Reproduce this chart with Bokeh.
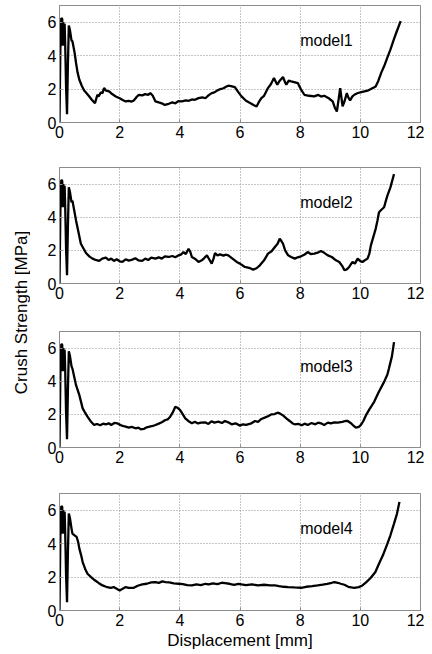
import math
from bokeh.plotting import figure
from bokeh.layouts import row, column
from bokeh.models import Range1d, FixedTicker
from bokeh.core.properties import value
from bokeh.embed import file_html
from bokeh.resources import INLINE

# ---------------- data ----------------
x_ticks = [0, 2, 4, 6, 8, 10, 12]
y_ticks = [0, 2, 4, 6]
model_names = ["model1", "model2", "model3", "model4"]
x_label = "Displacement [mm]"
y_label = "Crush Strength [MPa]"

# initial spikes (common shape of all four curves)
spike_pts = [(0.0, 0.0), (0.03, 4.5), (0.06, 6.25), (0.09, 6.2), (0.11, 4.6), (0.13, 6.0),
             (0.15, 4.7), (0.17, 5.9), (0.19, 4.6), (0.22, 2.0), (0.25, 0.5), (0.28, 3.5),
             (0.31, 5.8), (0.35, 5.5), (0.40, 4.9)]

model1_pts = [(0.43, 4.86), (0.5, 4.2), (0.55, 3.56), (0.6, 3.0), (0.66, 2.56), (0.74, 2.2), (0.82, 1.92),
              (0.9, 1.75), (0.99, 1.56), (1.08, 1.35), (1.18, 1.16), (1.26, 1.66), (1.3, 1.55), (1.37, 1.8),
              (1.43, 1.75), (1.48, 2.06), (1.55, 1.9), (1.65, 1.86), (1.75, 1.7), (1.87, 1.56), (2.0, 1.45),
              (2.1, 1.35), (2.2, 1.26), (2.3, 1.3), (2.4, 1.25), (2.47, 1.32), (2.55, 1.5), (2.64, 1.66),
              (2.75, 1.62), (2.85, 1.7), (2.95, 1.66), (3.02, 1.76), (3.1, 1.6), (3.19, 1.26), (3.3, 1.2),
              (3.4, 1.15), (3.5, 1.05), (3.63, 1.12), (3.75, 1.2), (3.85, 1.15), (3.95, 1.28), (4.07, 1.26),
              (4.2, 1.32), (4.3, 1.3), (4.4, 1.38), (4.5, 1.36), (4.62, 1.46), (4.75, 1.5), (4.85, 1.45),
              (4.95, 1.62), (5.06, 1.76), (5.15, 1.8), (5.25, 1.92), (5.35, 2.0), (5.45, 2.05), (5.55, 2.15),
              (5.61, 2.2), (5.7, 2.18), (5.83, 2.12), (5.95, 1.8), (6.05, 1.56), (6.2, 1.3), (6.35, 1.15),
              (6.45, 1.05), (6.55, 0.96), (6.62, 1.2), (6.71, 1.46), (6.8, 1.6), (6.93, 2.06), (7.03, 2.3),
              (7.13, 2.66), (7.2, 2.4), (7.24, 2.26), (7.32, 2.5), (7.43, 2.72), (7.5, 2.4), (7.54, 2.26),
              (7.62, 2.5), (7.7, 2.46), (7.8, 2.42), (7.92, 2.36), (8.02, 2.0), (8.14, 1.66), (8.3, 1.6),
              (8.47, 1.56), (8.6, 1.65), (8.7, 1.55), (8.8, 1.6), (8.95, 1.45), (9.08, 1.26), (9.15, 0.9),
              (9.22, 0.66), (9.28, 1.4), (9.33, 2.06), (9.37, 1.5), (9.41, 0.96), (9.48, 1.3), (9.55, 1.76),
              (9.6, 1.5), (9.66, 1.32), (9.73, 1.55), (9.8, 1.66), (9.9, 1.75), (10.0, 1.8), (10.1, 1.85),
              (10.24, 1.9), (10.35, 2.0), (10.45, 2.1), (10.51, 2.16), (10.6, 2.5), (10.7, 3.0), (10.79, 3.36),
              (10.9, 3.9), (11.0, 4.36), (11.1, 4.9), (11.2, 5.4), (11.34, 6.06)]

model2_pts = [(0.43, 5.0), (0.55, 3.8), (0.71, 2.4), (0.88, 1.84), (1.0, 1.62), (1.1, 1.5), (1.2, 1.42),
              (1.32, 1.36), (1.42, 1.5), (1.54, 1.56), (1.63, 1.42), (1.72, 1.5), (1.81, 1.36), (1.9, 1.46),
              (2.0, 1.34), (2.09, 1.3), (2.2, 1.46), (2.3, 1.38), (2.42, 1.44), (2.52, 1.52), (2.62, 1.4),
              (2.75, 1.36), (2.85, 1.5), (2.95, 1.42), (3.05, 1.56), (3.19, 1.5), (3.3, 1.58), (3.4, 1.5),
              (3.5, 1.64), (3.63, 1.6), (3.75, 1.66), (3.85, 1.58), (3.96, 1.7), (4.05, 1.76), (4.12, 1.9),
              (4.2, 1.78), (4.29, 2.1), (4.35, 1.9), (4.4, 1.6), (4.5, 1.5), (4.62, 1.3), (4.73, 1.4),
              (4.82, 1.55), (4.9, 1.7), (4.98, 1.45), (5.06, 1.2), (5.12, 1.5), (5.17, 1.84), (5.25, 1.7),
              (5.34, 1.76), (5.45, 1.68), (5.52, 1.74), (5.61, 1.7), (5.75, 1.5), (5.89, 1.3), (6.0, 1.2),
              (6.16, 1.0), (6.3, 0.95), (6.44, 0.84), (6.55, 0.92), (6.66, 1.1), (6.8, 1.4), (6.93, 1.8),
              (7.05, 1.95), (7.16, 2.2), (7.25, 2.4), (7.32, 2.7), (7.38, 2.55), (7.43, 2.4), (7.5, 2.0),
              (7.6, 1.7), (7.7, 1.6), (7.82, 1.5), (7.92, 1.58), (8.03, 1.64), (8.15, 1.75), (8.25, 1.9),
              (8.35, 1.78), (8.47, 1.8), (8.58, 1.86), (8.69, 1.96), (8.8, 1.85), (8.92, 1.7), (9.05, 1.6),
              (9.19, 1.4), (9.3, 1.3), (9.4, 1.05), (9.47, 0.8), (9.55, 0.85), (9.63, 1.0), (9.7, 1.2),
              (9.74, 1.3), (9.82, 1.2), (9.91, 1.5), (10.0, 1.35), (10.07, 1.3), (10.15, 1.4), (10.24, 1.5),
              (10.3, 1.8), (10.35, 2.3), (10.43, 2.8), (10.51, 3.3), (10.57, 3.8), (10.62, 4.3), (10.7, 4.45),
              (10.79, 4.6), (10.85, 5.0), (10.9, 5.3), (11.0, 5.8), (11.12, 6.6)]

model3_pts = [(0.43, 4.76), (0.55, 3.76), (0.66, 3.16), (0.77, 2.36), (0.85, 2.1), (0.93, 1.86), (1.05, 1.55),
              (1.15, 1.36), (1.25, 1.42), (1.35, 1.34), (1.45, 1.44), (1.54, 1.4), (1.64, 1.46), (1.72, 1.36),
              (1.82, 1.48), (1.92, 1.46), (2.0, 1.38), (2.1, 1.3), (2.2, 1.26), (2.3, 1.2), (2.4, 1.24),
              (2.53, 1.16), (2.62, 1.2), (2.7, 1.1), (2.8, 1.12), (2.9, 1.22), (3.0, 1.26), (3.1, 1.3),
              (3.19, 1.36), (3.3, 1.44), (3.4, 1.52), (3.52, 1.66), (3.6, 1.7), (3.68, 1.86), (3.76, 2.1),
              (3.85, 2.46), (3.92, 2.4), (4.01, 2.26), (4.1, 2.0), (4.18, 1.76), (4.28, 1.6), (4.4, 1.46),
              (4.5, 1.55), (4.6, 1.45), (4.7, 1.5), (4.84, 1.52), (4.95, 1.42), (5.05, 1.58), (5.15, 1.5),
              (5.28, 1.56), (5.4, 1.48), (5.5, 1.6), (5.61, 1.52), (5.72, 1.4), (5.85, 1.46), (6.0, 1.32),
              (6.1, 1.4), (6.2, 1.36), (6.38, 1.46), (6.5, 1.6), (6.6, 1.55), (6.71, 1.72), (6.82, 1.8),
              (6.95, 1.9), (7.04, 2.0), (7.15, 2.02), (7.25, 2.1), (7.32, 2.06), (7.42, 1.95), (7.54, 1.76),
              (7.65, 1.6), (7.75, 1.45), (7.82, 1.4), (7.95, 1.42), (8.05, 1.34), (8.15, 1.44), (8.25, 1.36),
              (8.38, 1.48), (8.5, 1.4), (8.6, 1.5), (8.69, 1.46), (8.8, 1.36), (8.92, 1.5), (9.02, 1.46),
              (9.14, 1.52), (9.25, 1.5), (9.4, 1.55), (9.5, 1.6), (9.58, 1.6), (9.7, 1.45), (9.78, 1.3),
              (9.85, 1.2), (9.95, 1.25), (10.02, 1.36), (10.1, 1.6), (10.18, 1.92), (10.3, 2.3), (10.46, 2.76),
              (10.6, 3.3), (10.79, 3.96), (10.9, 4.4), (10.95, 4.76), (11.05, 5.5), (11.12, 6.36)]

model4_pts = [(0.43, 4.6), (0.5, 4.5), (0.57, 4.4), (0.62, 4.1), (0.66, 3.7), (0.72, 3.3), (0.77, 2.9),
              (0.85, 2.5), (0.93, 2.2), (1.05, 2.0), (1.15, 1.84), (1.3, 1.65), (1.43, 1.5), (1.55, 1.42),
              (1.7, 1.36), (1.8, 1.4), (1.9, 1.3), (2.0, 1.2), (2.1, 1.3), (2.2, 1.4), (2.3, 1.35),
              (2.47, 1.36), (2.6, 1.48), (2.75, 1.56), (2.9, 1.6), (3.05, 1.68), (3.19, 1.7), (3.3, 1.65),
              (3.42, 1.74), (3.52, 1.7), (3.65, 1.68), (3.8, 1.62), (3.96, 1.6), (4.1, 1.58), (4.25, 1.52),
              (4.4, 1.5), (4.55, 1.56), (4.7, 1.52), (4.85, 1.6), (4.96, 1.56), (5.1, 1.62), (5.25, 1.58),
              (5.4, 1.66), (5.5, 1.64), (5.65, 1.6), (5.8, 1.54), (5.95, 1.6), (6.05, 1.56), (6.2, 1.52),
              (6.4, 1.56), (6.6, 1.5), (6.8, 1.54), (7.0, 1.5), (7.16, 1.5), (7.3, 1.46), (7.45, 1.42),
              (7.6, 1.4), (7.8, 1.38), (8.03, 1.36), (8.2, 1.42), (8.4, 1.46), (8.58, 1.5), (8.75, 1.55),
              (8.9, 1.6), (9.05, 1.66), (9.14, 1.7), (9.25, 1.66), (9.35, 1.6), (9.47, 1.54), (9.6, 1.42),
              (9.7, 1.38), (9.8, 1.36), (9.95, 1.4), (10.07, 1.5), (10.2, 1.7), (10.35, 1.96), (10.5, 2.3),
              (10.62, 2.8), (10.75, 3.3), (10.9, 4.0), (11.0, 4.5), (11.12, 5.2), (11.22, 5.8), (11.3, 6.5)]

label_pos = (8.0, 4.9)

# ---------------- styling ----------------
FONT = "Liberation Sans"
GREY = "#8c8c8c"
curves = [model1_pts, model2_pts, model3_pts, model4_pts]
heights = [162, 164, 162, 164]
frame_h = [117, 116, 116, 117]
TOP = 5

figs = []
for i, pts in enumerate(curves):
    last = i == len(curves) - 1
    full = spike_pts + pts
    xs = [p[0] for p in full]
    ys = [p[1] for p in full]
    p = figure(width=394, height=heights[i], output_backend="svg", toolbar_location=None,
               x_range=Range1d(0, 12), y_range=Range1d(0, 7),
               min_border_left=29, min_border_right=4, min_border_top=TOP,
               min_border_bottom=heights[i] - TOP - frame_h[i])
    p.background_fill_color = "white"
    p.border_fill_color = "white"
    p.outline_line_color = GREY
    p.outline_line_width = 1
    p.line(xs, ys, line_color="black", line_width=2.3)
    p.text(x=[label_pos[0]], y=[label_pos[1]], text=[model_names[i]],
           text_font=value(FONT), text_font_size="16px", text_color="black",
           text_align="left", text_baseline="middle")
    p.xaxis.ticker = FixedTicker(ticks=x_ticks)
    p.yaxis.ticker = FixedTicker(ticks=y_ticks)
    for ax in (p.xaxis[0], p.yaxis[0]):
        ax.axis_line_color = GREY
        ax.major_tick_line_color = GREY
        ax.major_tick_in = 3
        ax.major_tick_out = 0
        ax.minor_tick_line_color = None
        ax.major_label_text_font = FONT
        ax.major_label_text_font_size = "16px"
        ax.major_label_text_color = "black"
        ax.major_label_standoff = 3
    p.grid.grid_line_color = "#8f8f8f"
    p.grid.grid_line_dash = "1 2"
    p.grid.grid_line_width = 1
    if last:
        p.xaxis.axis_label = x_label
        p.xaxis.axis_label_text_font = FONT
        p.xaxis.axis_label_text_font_size = "17px"
        p.xaxis.axis_label_text_font_style = "normal"
        p.xaxis.axis_label_text_color = "black"
        p.xaxis.axis_label_standoff = 2
    figs.append(p)

total_h = sum(heights)
lab = figure(width=30, height=total_h, output_backend="svg", toolbar_location=None,
             x_range=Range1d(0, 30), y_range=Range1d(0, total_h),
             min_border=0)
lab.axis.visible = False
lab.grid.visible = False
lab.outline_line_color = None
lab.background_fill_color = "white"
lab.border_fill_color = "white"
lab.text(x=[21], y=[total_h - 312], text=[y_label], angle=math.pi / 2,
         text_font=value(FONT), text_font_size="17px", text_color="black",
         text_align="center", text_baseline="middle")

layout = row(lab, column(*figs, spacing=0), spacing=0)

open("out.html", "w").write(file_html(layout, INLINE))
